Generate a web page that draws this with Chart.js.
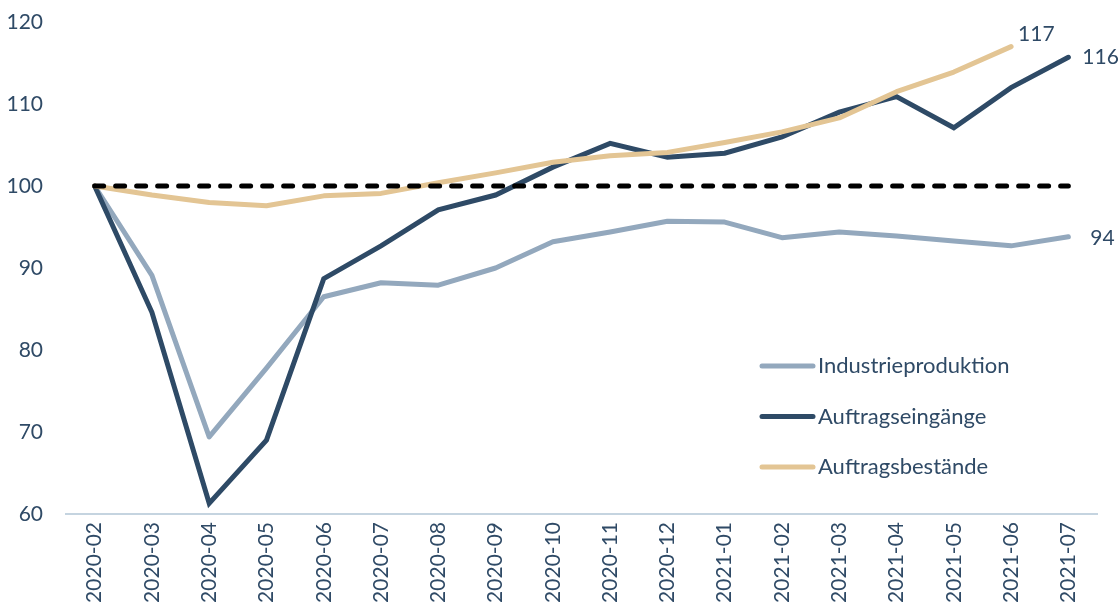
<!DOCTYPE html>
<html>
<head>
<meta charset="utf-8">
<script src="https://cdn.jsdelivr.net/npm/chart.js@4"></script>
<style>
html,body{margin:0;padding:0;background:#fff;}
#wrap{width:1119px;height:610px;position:relative;}
</style>
</head>
<body>
<div id="wrap"><canvas id="c" width="1119" height="610"></canvas></div>
<script>
const categories = ["2020-02","2020-03","2020-04","2020-05","2020-06","2020-07","2020-08","2020-09","2020-10","2020-11","2020-12","2021-01","2021-02","2021-03","2021-04","2021-05","2021-06","2021-07"];
const industrieproduktion = [100,89.1,69.4,77.8,86.5,88.2,87.9,90.0,93.2,94.4,95.7,95.6,93.7,94.4,93.9,93.3,92.7,93.8];
const auftragseingaenge = [100,84.6,61.3,69.0,88.7,92.7,97.1,98.9,102.3,105.2,103.5,104.0,106.0,109.0,110.9,107.1,112.0,115.7];
const auftragsbestaende = [100,98.9,98.0,97.6,98.8,99.1,100.4,101.6,102.9,103.7,104.1,105.3,106.6,108.3,111.5,113.9,117.0,null];
const baseline = [100,100,100,100,100,100,100,100,100,100,100,100,100,100,100,100,100,100];
const yTicks = [60,70,80,90,100,110,120];
const endLabels = {"Industrieproduktion":"94","Auftragseingänge":"116","Auftragsbestände":"117"};

const FONT = "Lato, 'Open Sans', sans-serif";
const TXT = "#2f4a66";

const cLight = "#93a8bd", cDark = "#2e4a66", cTan = "#e3c594";

const endLabelPlugin = {
  id: 'endLabels',
  afterDatasetsDraw(chart) {
    const ctx = chart.ctx;
    ctx.save();
    ctx.font = "21px " + FONT;
    ctx.fillStyle = TXT;
    ctx.textBaseline = "middle";
    chart.data.datasets.forEach((ds, i) => {
      const lbl = endLabels[ds.label];
      if (!lbl) return;
      const meta = chart.getDatasetMeta(i);
      let idx = ds.data.length - 1;
      while (idx >= 0 && ds.data[idx] == null) idx--;
      const pt = meta.data[idx];
      let dx = 14, dy = 0;
      if (ds.label === "Auftragsbestände") { dx = 7; dy = -12; }
      if (ds.label === "Industrieproduktion") { dx = 22; dy = 1; }
      ctx.textAlign = "left";
      ctx.fillText(lbl, pt.x + dx, pt.y + dy);
    });
    ctx.restore();
  }
};

const legendPlugin = {
  id: 'customLegend',
  afterDraw(chart) {
    const ctx = chart.ctx;
    const items = [["Industrieproduktion", cLight],["Auftragseingänge", cDark],["Auftragsbestände", cTan]];
    ctx.save();
    ctx.font = "22px " + FONT;
    ctx.textBaseline = "middle";
    ctx.textAlign = "left";
    items.forEach((it, k) => {
      const y = 366 + k * 50.5;
      ctx.strokeStyle = it[1];
      ctx.lineWidth = 5;
      ctx.lineCap = "round";
      ctx.beginPath();
      ctx.moveTo(762, y);
      ctx.lineTo(813, y);
      ctx.stroke();
      ctx.fillStyle = TXT;
      ctx.fillText(it[0], 818, y);
    });
    ctx.restore();
  }
};

new Chart(document.getElementById('c'), {
  type: 'line',
  data: {
    labels: categories,
    datasets: [
      {label: "Basis", data: baseline, borderColor: "#000", borderWidth: 5, borderDash: [9, 12], borderCapStyle: "round", pointRadius: 0, order: 0},
      {label: "Auftragsbestände", data: auftragsbestaende, borderColor: cTan, borderWidth: 5, pointRadius: 0, order: 1, borderJoinStyle: "round", borderCapStyle: "round"},
      {label: "Auftragseingänge", data: auftragseingaenge, borderColor: cDark, borderWidth: 5, pointRadius: 0, order: 2, borderJoinStyle: "miter", borderCapStyle: "round"},
      {label: "Industrieproduktion", data: industrieproduktion, borderColor: cLight, borderWidth: 5, pointRadius: 0, order: 3, borderJoinStyle: "round", borderCapStyle: "round"}
    ]
  },
  options: {
    responsive: false,
    animation: false,
    spanGaps: false,
    layout: {padding: {top: 22, right: 22, left: 0, bottom: 0}},
    plugins: {legend: {display: false}, tooltip: {enabled: false}},
    elements: {line: {tension: 0}},
    scales: {
      x: {
        offset: true,
        grid: {display: false, drawTicks: false},
        border: {display: true, color: "#c5d4e0", width: 2},
        ticks: {color: TXT, font: {family: FONT, size: 21}, minRotation: 90, maxRotation: 90, padding: 8, autoSkip: false},
        afterFit(s) { s.height = 96; s.paddingTop = 0; s.paddingBottom = 0; s.paddingLeft = 0; s.paddingRight = 0; }
      },
      y: {
        min: 60, max: 120,
        afterBuildTicks(s) { s.ticks = yTicks.map(v => ({value: v})); },
        grid: {display: false, drawTicks: false},
        border: {display: false},
        ticks: {color: TXT, font: {family: FONT, size: 21}, padding: 23},
        afterFit(s) { s.width = 66; s.paddingTop = 0; s.paddingBottom = 0; }
      }
    }
  },
  plugins: [endLabelPlugin, legendPlugin]
});
</script>
</body>
</html>
